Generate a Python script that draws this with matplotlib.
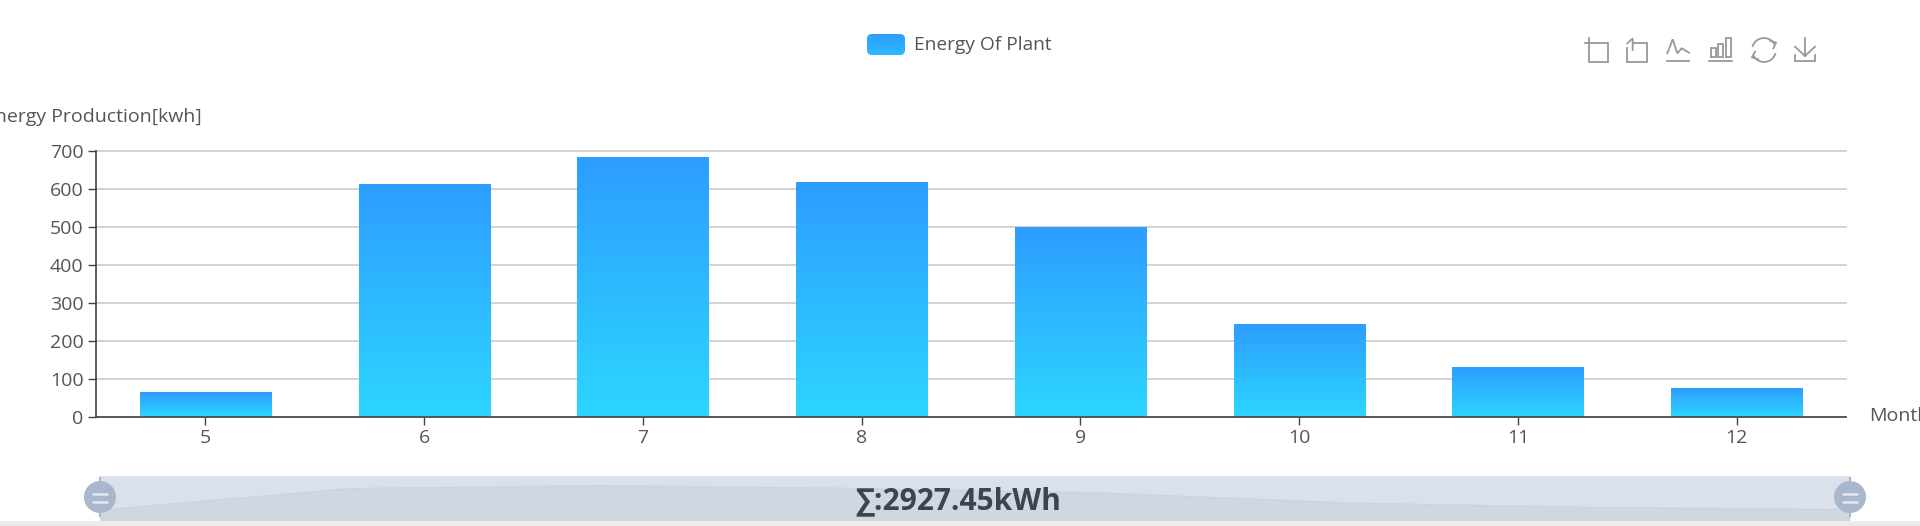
import numpy as np
import matplotlib
matplotlib.use("Agg")
import matplotlib.pyplot as plt
from matplotlib.patches import Arc, Circle, FancyBboxPatch, Rectangle

plt.rcParams['font.family'] = ['Open Sans', 'DejaVu Sans']

months = ["5", "6", "7", "8", "9", "10", "11", "12"]
energy = [64, 612, 684, 617, 500, 244, 130, 76]
y_ticks = [0, 100, 200, 300, 400, 500, 600, 700]
legend_label = "Energy Of Plant"
y_title = "Energy Production[kwh]"
x_title = "Month"
total_label = "∑:2927.45kWh"

W, H = 1920, 526
TEXT = "#555555"
AXIS = "#444444"
ICON = "#999999"
TOP = np.array([0x2e, 0x9d, 0xff]) / 255
BOTTOM = np.array([0x2c, 0xd6, 0xff]) / 255


def px_axes(fig, left, top, right, bottom, **kw):
    return fig.add_axes([left / W, 1 - bottom / H, (right - left) / W, (bottom - top) / H], **kw)


def gradient(c1, c2):
    t = np.linspace(0, 1, 128)[:, None, None]
    return c1 * (1 - t) + c2 * t


fig = plt.figure(figsize=(W / 100, H / 100), dpi=100, facecolor="white")

# main bars
ax = px_axes(fig, 96, 151, 1846, 416.5)
x = np.arange(len(months))
ax.set_xlim(-0.5, len(months) - 0.5)
ax.set_ylim(0, 700)
ax.set_yticks(y_ticks)
ax.set_xticks(x, months)
ax.grid(axis="y", color="#cfcfcf", lw=1.3, clip_on=False)
ax.set_axisbelow(True)
for s in ["top", "right"]:
    ax.spines[s].set_visible(False)
for s in ["left", "bottom"]:
    ax.spines[s].set_color(AXIS)
    ax.spines[s].set_linewidth(1.2)
ax.tick_params(axis="both", colors=AXIS, labelcolor=TEXT, labelsize=14, width=1, length=6)
ax.tick_params(axis="y", pad=3)
ax.tick_params(axis="x", pad=3)

bars = ax.bar(x, energy, width=0.6, color="none")
for b in bars:
    im = ax.imshow(gradient(TOP, BOTTOM), aspect="auto", zorder=3,
                   extent=[b.get_x(), b.get_x() + b.get_width(), 0, b.get_height()])
    im.set_clip_path(b)
ax.set_xlim(-0.5, len(months) - 0.5)
ax.set_ylim(0, 700)
ax.spines["bottom"].set_zorder(5)

# data zoom slider
sl = px_axes(fig, 100, 476, 1850, 521)
sl.set_xlim(0, len(months) - 1)
sl.set_ylim(-209, 932)
sl.fill_between(x, energy, -209, color="#d0d7e1", lw=0)
sl.plot(x, energy, color="#ccd3de", lw=1)
sl.axis("off")
sl.add_patch(Rectangle((0, 0), 1, 1, transform=sl.transAxes, color="#dbe1ea", zorder=0))

# overlay in pixel coordinates
ov = fig.add_axes([0, 0, 1, 1], facecolor="none")
ov.axis("off")

ov.add_patch(Rectangle((0, 521), W, 5, color="#ececec", lw=0))

# legend swatch
swatch = FancyBboxPatch((869, 36), 34, 17, mutation_scale=1, fc="none", ec="none",
                        boxstyle="round,pad=2,rounding_size=5")
ov.add_patch(swatch)
im = ov.imshow(gradient(TOP, TOP * 0.5 + BOTTOM * 0.5), aspect="auto", extent=[865, 907, 56, 33])
im.set_clip_path(swatch)

# handles
for hx in [100, 1850]:
    ov.plot([hx, hx], [478, 516], color="#a9b7cc", lw=1.5)
    ov.add_patch(Circle((hx, 497), 16, fc="#a9b7cc", ec="none", zorder=4))
    for hy in [493.5, 501.5]:
        ov.plot([hx - 7, hx + 7], [hy, hy], color="#e4e8ef", lw=1.8, zorder=5, solid_capstyle="round")


def icon(points):
    xs = [1540 + p[0] / 3 for p in points]
    ys = [20 + p[1] / 3 for p in points]
    ov.plot(xs, ys, color=ICON, lw=1.3, solid_joinstyle="miter")


# toolbox: zoom, back, line, bar, restore, save
icon([(165, 68), (205, 68), (205, 125), (148, 125), (148, 85)])
icon([(135, 68), (165, 68)])
icon([(148, 55), (148, 85)])
icon([(278, 68), (320, 68), (320, 125), (262, 125), (262, 85)])
icon([(262, 70), (278, 55), (278, 90)])
icon([(380, 122), (448, 122)])
icon([(382, 100), (398, 58), (412, 100), (425, 85), (447, 98)])
icon([(508, 122), (576, 122)])
for a, b, t in [(512, 528, 85), (535, 550, 72), (558, 573, 55)]:
    icon([(a, 112), (a, t), (b, t), (b, 112), (a, 112)])
cx, cy = 1540 + 672 / 3, 20 + 90 / 3
ov.add_patch(Arc((cx, cy), 24, 24, theta1=195, theta2=335, color=ICON, lw=1.3))
ov.add_patch(Arc((cx, cy), 24, 24, theta1=15, theta2=155, color=ICON, lw=1.3))
icon([(690, 62), (708, 68), (700, 85)])
icon([(655, 118), (636, 112), (645, 95)])
icon([(795, 55), (795, 108)])
icon([(765, 80), (795, 108), (825, 80)])
icon([(765, 105), (765, 122), (825, 122), (825, 105)])

ov.text(914, 44.5, legend_label, color=TEXT, fontsize=13.8, ha="left", va="center")
ov.text(202, 117, y_title, color=TEXT, fontsize=14, ha="right", va="center")
ov.text(1869, 416, x_title, color=TEXT, fontsize=14, ha="left", va="center")
ov.text(958, 501, total_label, color="#3d4450", fontsize=21.5, fontweight="bold", ha="center", va="center")

ov.set_xlim(0, W)
ov.set_ylim(H, 0)

fig.savefig("out.png", dpi=100)
